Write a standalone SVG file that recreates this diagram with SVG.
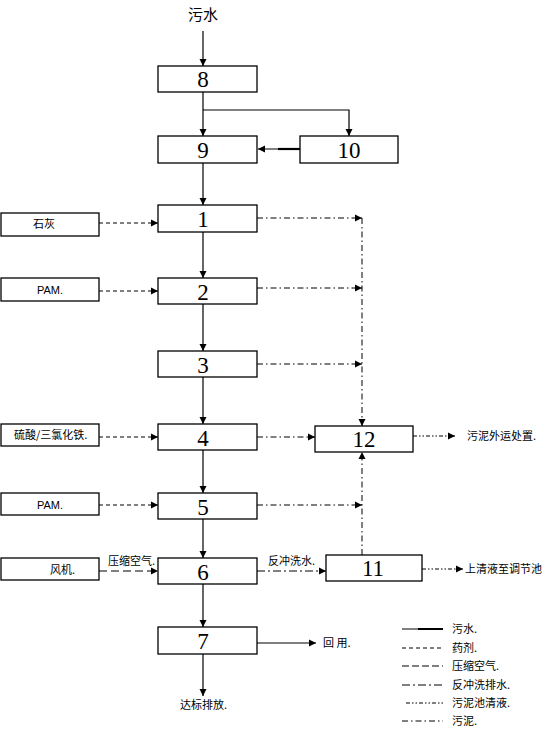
<svg xmlns="http://www.w3.org/2000/svg" width="547" height="735" viewBox="0 0 547 735">
<style>
.box{fill:#fff;stroke:#000;stroke-width:1.3}
.num{font-family:"Liberation Serif",serif;font-size:23px;text-anchor:middle;fill:#000}
.lbl{font-family:"Liberation Sans","Noto Sans CJK SC",sans-serif;font-size:11px;fill:#000}
.cn{font-family:"Noto Sans CJK SC",sans-serif;font-size:11px;fill:#000}
.w{stroke:#000;stroke-width:1.2;fill:none}
.drug{stroke:#000;stroke-width:1;fill:none;stroke-dasharray:4 3}
.air{stroke:#000;stroke-width:1;fill:none;stroke-dasharray:8 4}
.bw{stroke:#000;stroke-width:1;fill:none;stroke-dasharray:8 3 2 3}
.sl{stroke:#000;stroke-width:1;fill:none;stroke-dasharray:6 3 1.5 3}
.cl{stroke:#000;stroke-width:1;fill:none;stroke-dasharray:4 2 1.5 2 1.5 2}
</style>
<defs>
<marker id="ah" markerWidth="8" markerHeight="8" refX="7" refY="4" orient="auto" markerUnits="userSpaceOnUse">
<path d="M0,0.5 L7,4 L0,7.5 Z" fill="#000"/>
</marker>
</defs>
<text x="203" y="20" class="cn" style="font-size:15px" text-anchor="middle">污水</text>
<g id="connectors">
<path class="w" d="M203,31 V66" marker-end="url(#ah)"/>
<path class="w" d="M203,92 V136" marker-end="url(#ah)"/>
<path class="w" d="M203,110 H349 V136" marker-end="url(#ah)"/>
<path class="w" d="M300,149 H258" marker-end="url(#ah)"/>
<path d="M278,149 H300" stroke="#000" stroke-width="2.2"/>
<path class="w" d="M203,163 V205" marker-end="url(#ah)"/>
<path class="w" d="M203,232 V278" marker-end="url(#ah)"/>
<path class="w" d="M203,304 V351" marker-end="url(#ah)"/>
<path class="w" d="M203,377 V424" marker-end="url(#ah)"/>
<path class="w" d="M203,450 V493" marker-end="url(#ah)"/>
<path class="w" d="M203,519 V558" marker-end="url(#ah)"/>
<path class="w" d="M203,584 V627" marker-end="url(#ah)"/>
<path class="w" d="M203,654 V696" marker-end="url(#ah)"/>
<path class="w" d="M257,643 H316" marker-end="url(#ah)"/>
<path class="drug" d="M99,223 H158" marker-end="url(#ah)"/>
<path class="drug" d="M99,291 H158" marker-end="url(#ah)"/>
<path class="drug" d="M99,437 H158" marker-end="url(#ah)"/>
<path class="drug" d="M99,505 H158" marker-end="url(#ah)"/>
<path class="air" d="M99,571 H158" marker-end="url(#ah)"/>
<path class="sl" d="M257,218 H362" marker-end="url(#ah)"/>
<path class="sl" d="M257,288 H362" marker-end="url(#ah)"/>
<path class="sl" d="M257,364 H362" marker-end="url(#ah)"/>
<path class="sl" d="M362,218 V426" marker-end="url(#ah)"/>
<path class="sl" d="M257,437 H315" marker-end="url(#ah)"/>
<path class="sl" d="M257,505 H362" marker-end="url(#ah)"/>
<path class="sl" d="M362,555 V452" marker-end="url(#ah)"/>
<path class="bw" d="M257,571 H326" marker-end="url(#ah)"/>
<path class="cl" d="M413,436 H455" marker-end="url(#ah)"/>
<path class="cl" d="M422,569 H463" marker-end="url(#ah)"/>
</g>
<g id="n8"><rect class="box" x="158" y="66" width="99" height="26"/><text class="num" x="203" y="87">8</text></g>
<g id="n9"><rect class="box" x="158" y="136" width="99" height="27"/><text class="num" x="203" y="158">9</text></g>
<g id="n10"><rect class="box" x="300" y="136" width="98" height="27"/><text class="num" x="349" y="158">10</text></g>
<g id="n1"><rect class="box" x="158" y="205" width="99" height="27"/><text class="num" x="203" y="227">1</text></g>
<g id="n2"><rect class="box" x="158" y="278" width="99" height="26"/><text class="num" x="203" y="300">2</text></g>
<g id="n3"><rect class="box" x="158" y="351" width="99" height="26"/><text class="num" x="203" y="373">3</text></g>
<g id="n4"><rect class="box" x="158" y="424" width="99" height="26"/><text class="num" x="203" y="446">4</text></g>
<g id="n5"><rect class="box" x="158" y="493" width="99" height="26"/><text class="num" x="203" y="515">5</text></g>
<g id="n6"><rect class="box" x="158" y="558" width="99" height="26"/><text class="num" x="203" y="580">6</text></g>
<g id="n7"><rect class="box" x="158" y="627" width="99" height="27"/><text class="num" x="203" y="649">7</text></g>
<g id="n12"><rect class="box" x="315" y="426" width="98" height="26"/><text class="num" x="364" y="447">12</text></g>
<g id="n11"><rect class="box" x="326" y="555" width="96" height="26"/><text class="num" x="373" y="576">11</text></g>
<g id="lime"><rect class="box" x="1" y="213" width="98" height="23"/><text class="cn" x="33" y="228">石灰</text></g>
<g id="pam1"><rect class="box" x="1" y="278" width="98" height="23"/><text class="lbl" x="37" y="294">PAM.</text></g>
<g id="acid"><rect class="box" x="1" y="424" width="98" height="22"/><text class="cn" x="14" y="439">硫酸/三氯化铁.</text></g>
<g id="pam2"><rect class="box" x="1" y="493" width="98" height="22"/><text class="lbl" x="37" y="509">PAM.</text></g>
<g id="fan"><rect class="box" x="1" y="558" width="98" height="22"/><text class="cn" x="50" y="574">风机.</text></g>
<text class="cn" x="108" y="565">压缩空气.</text>
<text class="cn" x="268" y="565">反冲洗水.</text>
<text class="cn" x="467" y="440">污泥外运处置.</text>
<text class="cn" x="465" y="573">上清液至调节池</text>
<text class="cn" x="323" y="647">回 用.</text>
<text class="cn" x="180" y="709">达标排放.</text>
<g id="legend">
<path d="M402,629 H443" stroke="#000" stroke-width="1"/>
<path d="M418,629 H443" stroke="#000" stroke-width="2"/>
<text class="cn" x="452" y="633">污水.</text>
<path class="drug" d="M402,648 H443"/>
<text class="cn" x="452" y="652">药剂.</text>
<path class="air" d="M402,666 H443" style="stroke-dasharray:7 3"/>
<text class="cn" x="452" y="670">压缩空气.</text>
<path class="bw" d="M402,685 H443"/>
<text class="cn" x="452" y="689">反冲洗排水.</text>
<path class="cl" d="M406,703 H443" stroke-width="1.5"/>
<text class="cn" x="452" y="707">污泥池清液.</text>
<path class="sl" d="M402,721 H443"/>
<text class="cn" x="452" y="725">污泥.</text>
</g>
</svg>
